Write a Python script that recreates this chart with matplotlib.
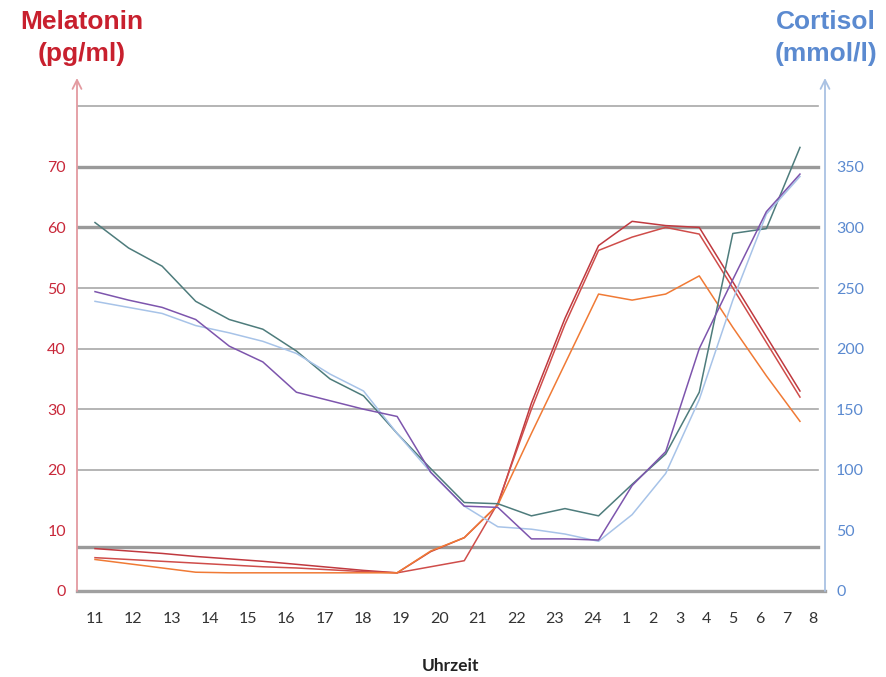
import matplotlib
matplotlib.use("Agg")
import matplotlib.pyplot as plt
import numpy as np

# ---- data -------------------------------------------------------------
hours = ["11", "12", "13", "14", "15", "16", "17", "18", "19", "20", "21",
         "22", "23", "24", "1", "2", "3", "4", "5", "6", "7", "8"]

# melatonin (pg/ml), hourly samples
mel_a = [7.0, 6.6, 6.2, 5.7, 5.3, 4.9, 4.4, 3.9, 3.4, 3.0, 6.5, 8.8,
         14.2, 31.0, 45.0, 57.0, 61.0, 60.3, 60.0, 51.0, 42.0, 33.0]
mel_b = [5.5, 5.2, 4.9, 4.6, 4.3, 4.0, 3.8, 3.5, 3.2, 3.0, 4.0, 5.0,
         14.5, 30.0, 44.0, 56.2, 58.4, 60.0, 58.9, 50.0, 41.0, 32.0]
mel_c = [5.2, 4.5, 3.8, 3.1, 3.0, 3.0, 3.0, 3.0, 3.0, 3.0, 6.6, 8.8,
         14.2, 26.0, 37.5, 49.0, 48.0, 49.0, 52.0, 43.5, 35.5, 28.0]

# cortisol (mmol/l), hourly samples
cort_teal = [304, 283, 268, 239, 224, 216, 198, 175, 161, 130, 101, 73,
             72, 62, 68, 62, 88, 113, 164, 295, 299, 366]
cort_blue = [239, 234, 229, 219, 213, 206, 196, 179, 165, 130, 98, 70,
             53, 51, 47, 41, 63, 97, 158, 240, 311, 342]
cort_purple = [247, 240, 234, 224, 202, 189, 164, 157, 150, 144, 98, 70,
               69, 43, 43, 42, 87, 115, 200, 257, 313, 344]

mel_ticks = [0, 10, 20, 30, 40, 50, 60, 70]
cort_ticks = [0, 50, 100, 150, 200, 250, 300, 350]

# ---- layout -------------------------------------------------------------
x = np.arange(len(hours))
# the hour labels of the original sit in a text box, not on the data points
label_slots = list(np.linspace(0.0, 14.83, 14)) + list(np.linspace(15.82, 21.39, 8))

W, H = 887, 677
fig = plt.figure(figsize=(W / 100, H / 100), dpi=100)
ax_l, ax_r, ax_b, ax_t = 77, 825, 591, 78
ax = fig.add_axes([ax_l / W, 1 - ax_b / H, (ax_r - ax_l) / W, (ax_b - ax_t) / H])
ax2 = ax.twinx()

px_per_idx = 33.57
x0_px = 95
xlo = -(x0_px - ax_l) / px_per_idx
xhi = (ax_r - x0_px) / px_per_idx
ax.set_xlim(xlo, xhi)
ymax = (ax_b - ax_t) / 6.06
ax.set_ylim(0, ymax)
ax2.set_ylim(0, ymax * 5)

for a in (ax, ax2):
    for s in a.spines.values():
        s.set_visible(False)
    a.patch.set_visible(False)

# gridlines
grid_end = (21.54 - xlo) / (xhi - xlo)
for v in [20, 30, 40, 50, 80]:
    ax.axhline(v, 0, grid_end, color="#a8a8a8", lw=1.2, zorder=1)
for v in [60, 70, 7.2]:
    ax.axhline(v, 0, grid_end, color="#9a9a9a", lw=2.4, zorder=1)
ax.axhline(0, 0, 1.0, color="#a0a0a0", lw=2.4, zorder=1, clip_on=False)

# axes with arrows
ax.annotate("", xy=(0, 1.0), xytext=(0, 0), xycoords="axes fraction",
            arrowprops=dict(arrowstyle="->", color="#e39aa0", lw=1.3,
                            mutation_scale=16, shrinkA=0, shrinkB=0))
ax.annotate("", xy=(1, 1.0), xytext=(1, 0), xycoords="axes fraction",
            arrowprops=dict(arrowstyle="->", color="#a9c1e3", lw=1.3,
                            mutation_scale=16, shrinkA=0, shrinkB=0))

lw = 1.1
ax.plot(x, mel_a, color="#c0393f", lw=lw, zorder=4)
ax.plot(x, mel_b, color="#cf4d4a", lw=lw, zorder=4)
ax.plot(x, mel_c, color="#f07a35", lw=lw, zorder=4)
ax2.plot(x, cort_teal, color="#4e7c7c", lw=lw, zorder=3)
ax2.plot(x, cort_blue, color="#a7c3e8", lw=lw, zorder=3)
ax2.plot(x, cort_purple, color="#7d55ad", lw=lw, zorder=3)

# ticks
tick_font = "Lato"
ax.set_yticks(mel_ticks)
ax.set_yticklabels([str(t) for t in mel_ticks], fontsize=11.5, family=tick_font)
ax.tick_params(axis="y", length=0, pad=8, labelcolor="#c8283a")
ax2.set_yticks(cort_ticks)
ax2.set_yticklabels([str(t) for t in cort_ticks], fontsize=11.5, family=tick_font)
ax2.tick_params(axis="y", length=0, pad=8, labelcolor="#5b8ad0")
ax.set_xticks(label_slots)
ax.set_xticklabels(hours, fontsize=11.5, family=tick_font)
ax.tick_params(axis="x", length=0, pad=15, labelcolor="#333333")

ax.set_xlabel("Uhrzeit", fontsize=12.5, fontweight="bold", family=tick_font,
              color="#222222", labelpad=23)

fig.text(82 / W, 1 - 38 / H, "Melatonin\n(pg/ml)", ha="center", va="center",
         fontsize=19, fontweight="bold", color="#c8202e",
         family="Liberation Sans", linespacing=1.45)
fig.text(826 / W, 1 - 38 / H, "Cortisol\n(mmol/l)", ha="center", va="center",
         fontsize=19, fontweight="bold", color="#5b8ad0",
         family="Liberation Sans", linespacing=1.45)

fig.savefig("out.png", dpi=100)
